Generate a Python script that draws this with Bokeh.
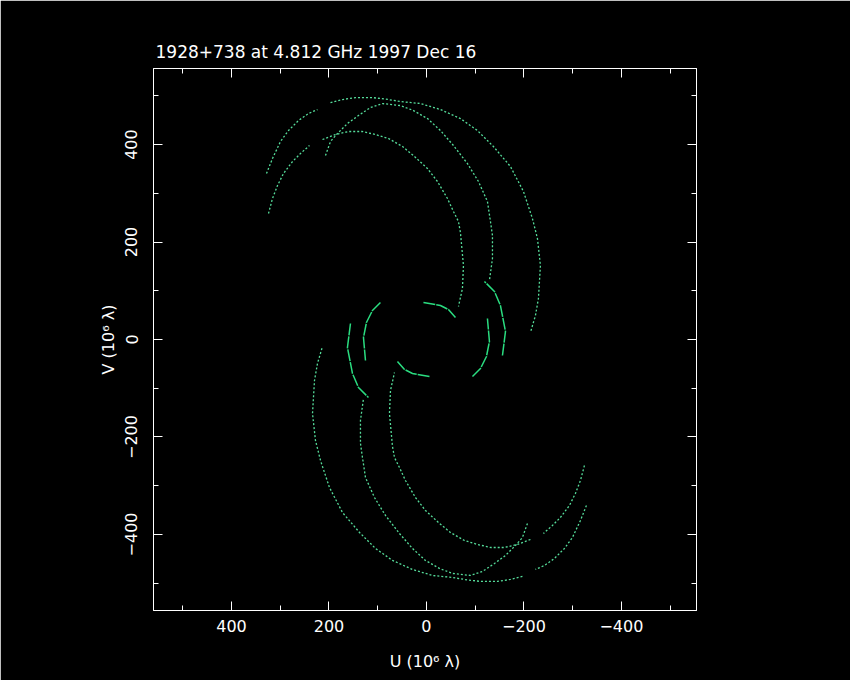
from bokeh.plotting import figure
from bokeh.models import Range1d, SingleIntervalTicker, LinearAxis, CustomJSTickFormatter
from bokeh.embed import file_html
from bokeh.resources import INLINE
import numpy as np

# uv tracks (U, V in 10^6 lambda); each is plotted with its conjugate (-U, -V)
t1_u = [196.9, 172.3, 145.6, 110.8, 77.9, 53.3, 12.3, -28.7, -69.7, -104.6, -137.4, -172.3,
        -199.0, -217.4, -227.7, -233.8, -229.7, -223.6, -213.3]
t1_v = [486.2, 492.3, 496.4, 496.4, 492.3, 488.2, 484.1, 471.8, 453.3, 428.7, 395.9, 354.9,
        303.6, 248.2, 207.2, 151.8, 84.1, 49.2, 14.4]

t2_u = [207.2, 196.9, 182.6, 162.1, 139.5, 114.9, 90.3, 53.3, 26.7, -2.1, -28.7, -55.4,
        -84.1, -106.7, -125.1, -131.3, -135.4, -135.4, -129.2]
t2_v = [377.4, 406.2, 422.6, 443.1, 459.5, 475.9, 484.1, 480.0, 469.7, 453.3, 428.7, 398.0,
        361.0, 324.1, 283.1, 242.1, 213.3, 166.2, 121.0]

t3_u = [213.3, 186.7, 160.0, 131.3, 104.6, 77.9, 49.2, 26.7, -2.1, -22.6, -43.1, -55.4,
        -65.6, -69.7, -75.9, -73.8, -65.6]
t3_v = [410.3, 420.5, 426.7, 426.7, 420.5, 412.3, 395.9, 377.4, 350.8, 324.1, 289.2, 262.6,
        242.1, 219.5, 151.8, 104.6, 67.7]

p1_u = [328.2, 315.9, 299.5, 283.1, 262.6, 242.1, 223.6]
p1_v = [340.5, 371.3, 406.2, 428.7, 449.2, 463.6, 471.8]

p2_u = [324.1, 315.9, 305.6, 293.3, 274.9, 258.5, 240.0]
p2_v = [258.5, 289.2, 315.9, 340.5, 365.1, 381.5, 398.0]

# short baselines (bright arcs)
b1_u = [94.4, 110.8, 123.1, 129.2, 125.1]
b1_v = [75.9, 59.5, 34.9, 4.1, -43.1]
b2_u = [155.9, 162.1, 151.8, 139.5, 119.0]
b2_v = [32.8, -16.4, -69.7, -98.5, -119.0]
b3_u = [6.2, -28.7, -45.1, -59.5]
b3_v = [75.9, 69.7, 61.5, 45.1]

dotted_tracks = [(t1_u, t1_v), (t2_u, t2_v), (t3_u, t3_v), (p1_u, p1_v), (p2_u, p2_v)]
bright_tracks = [(b1_u, b1_v), (b2_u, b2_v), (b3_u, b3_v)]

title_text = "1928+738 at 4.812 GHz 1997 Dec 16"
x_label = "U (10\u2076 \u03bb)"
y_label = "V (10\u2076 \u03bb)"

FONT = "DejaVu Sans"

p = figure(frame_width=543, frame_height=542, output_backend="svg", toolbar_location=None,
           x_range=Range1d(560, -554), y_range=Range1d(-556, 556),
           background_fill_color="black", border_fill_color="black",
           min_border_left=153, min_border_right=154, min_border_top=68, min_border_bottom=70,
           x_axis_label=x_label, y_axis_label=y_label)
p.grid.visible = False
p.outline_line_color = "white"
p.outline_line_width = 1

p.title.text = title_text
p.title.text_color = "white"
p.title.text_font = FONT
p.title.text_font_style = "normal"
p.title.text_font_size = "17px"
p.title.offset = 2
p.title.standoff = 13

p.add_layout(LinearAxis(), "right")
p.add_layout(LinearAxis(), "above")

for ax in p.axis:
    ax.ticker = SingleIntervalTicker(interval=200, num_minor_ticks=2)
    ax.axis_line_color = "white"
    ax.major_tick_line_color = "white"
    ax.minor_tick_line_color = "white"
    ax.major_tick_in = 9
    ax.major_tick_out = 0
    ax.minor_tick_in = 5
    ax.minor_tick_out = 0
    ax.major_label_text_color = "white"
    ax.major_label_text_font = FONT
    ax.major_label_text_font_size = "16px"
    ax.axis_label_text_color = "white"
    ax.axis_label_text_font = FONT
    ax.axis_label_text_font_style = "normal"
    ax.axis_label_text_font_size = "16px"

for ax in p.right + p.above:
    ax.formatter = CustomJSTickFormatter(code="return ''")
    ax.major_label_standoff = 0

bottom_axis = p.below[0]
left_axis = p.left[0]
left_axis.major_label_orientation = "vertical"
bottom_axis.major_label_standoff = 9
bottom_axis.axis_label_standoff = 17
left_axis.major_label_standoff = 16

DOT_COLOR = "#55dc9a"
BRIGHT_COLOR = "#2add80"

for u, v in dotted_tracks:
    u = np.array(u); v = np.array(v)
    p.line(u, v, line_color=DOT_COLOR, line_width=1.3, line_dash="2 2")
    p.line(-u, -v, line_color=DOT_COLOR, line_width=1.3, line_dash="2 2")

for u, v in bright_tracks:
    u = np.array(u); v = np.array(v)
    p.line(u, v, line_color=BRIGHT_COLOR, line_width=1.5, line_dash="12 1")
    p.line(-u, -v, line_color=BRIGHT_COLOR, line_width=1.5, line_dash="12 1")

open("out.html", "w").write(file_html(p, INLINE))
